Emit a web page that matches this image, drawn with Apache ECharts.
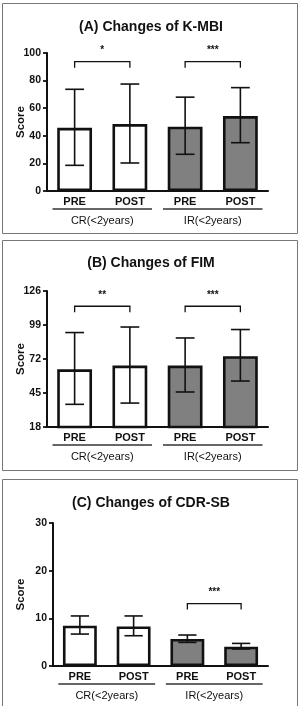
<!DOCTYPE html>
<html>
<head>
<meta charset="utf-8">
<script src="https://cdn.jsdelivr.net/npm/echarts@6/dist/echarts.min.js"></script>
<style>
  html, body { margin: 0; padding: 0; background: #fff; }
  #chart { width: 302px; height: 706px; }
</style>
</head>
<body>
<div id="chart"></div>
<script>
// shared categories
var categories = ['PRE', 'POST', 'PRE', 'POST'];
var groupNames = ['CR(<2years)', 'IR(<2years)'];
var groupSpans = [[0, 1], [2, 3]];
var barColors = ['#ffffff', '#ffffff', '#808080', '#808080'];

// (A) K-MBI
var kmbiMean = [45.8, 48.5, 46.6, 54.3];
var kmbiLower = [18.6, 20.3, 26.6, 35.0];
var kmbiUpper = [73.7, 77.5, 68.0, 74.9];
var kmbiAxis = [0, 100, 20]; // min, max, interval
var kmbiSig = [[0, 1, 93.7], [2, 3, 93.7]];
var kmbiSigLabels = ['*', '***'];

// (B) FIM
var fimMean = [63.8, 66.8, 66.8, 74.2];
var fimLower = [36.0, 37.0, 45.8, 54.5];
var fimUpper = [93.0, 97.4, 88.7, 95.4];
var fimAxis = [18, 126, 27];
var fimSig = [[0, 1, 113.9], [2, 3, 113.9]];
var fimSigLabels = ['**', '***'];

// (C) CDR-SB
var cdrMean = [8.45, 8.3, 5.66, 4.05];
var cdrLower = [6.7, 6.35, 4.95, 3.56];
var cdrUpper = [10.5, 10.5, 6.5, 4.74];
var cdrAxis = [0, 30, 10];
var cdrSig = [[2, 3, 13.1]];
var cdrSigLabels = ['***'];

var titles = ['(A) Changes of K-MBI', '(B) Changes of FIM', '(C) Changes of CDR-SB'];

var FONT = 'Liberation Sans, Arial, sans-serif';
var INK = '#111';

var panels = [
  { mean: kmbiMean, lower: kmbiLower, upper: kmbiUpper, axis: kmbiAxis, sig: kmbiSig, sigLabels: kmbiSigLabels,
    grid: { left: 47, top: 53, width: 221, height: 138 }, titleTop: 15, nameGap: 20, box: [2.5, 3.5, 295, 230] },
  { mean: fimMean, lower: fimLower, upper: fimUpper, axis: fimAxis, sig: fimSig, sigLabels: fimSigLabels,
    grid: { left: 47, top: 291, width: 221, height: 136 }, titleTop: 251, nameGap: 20, box: [2.5, 240.5, 295, 230] },
  { mean: cdrMean, lower: cdrLower, upper: cdrUpper, axis: cdrAxis, sig: cdrSig, sigLabels: cdrSigLabels,
    grid: { left: 53, top: 523, width: 215, height: 143 }, titleTop: 491, nameGap: 26, box: [2.5, 479.5, 295, 240] }
];

function errorItem(params, api) {
  var x = api.value(0);
  var lo = api.coord([x, api.value(1)]);
  var hi = api.coord([x, api.value(2)]);
  var half = api.size([1, 0])[0] * 0.17;
  var st = { stroke: INK, lineWidth: 1.6 };
  return {
    type: 'group',
    children: [
      { type: 'line', shape: { x1: lo[0], y1: lo[1], x2: hi[0], y2: hi[1] }, style: st },
      { type: 'line', shape: { x1: lo[0] - half, y1: lo[1], x2: lo[0] + half, y2: lo[1] }, style: st },
      { type: 'line', shape: { x1: hi[0] - half, y1: hi[1], x2: hi[0] + half, y2: hi[1] }, style: st }
    ]
  };
}

function bracketItem(labels) {
  return function (params, api) {
    var a = api.coord([api.value(0), api.value(2)]);
    var b = api.coord([api.value(1), api.value(2)]);
    var st = { stroke: INK, lineWidth: 1.3, fill: null };
    return {
      type: 'group',
      children: [
        { type: 'polyline', shape: { points: [[a[0], a[1] + 6], [a[0], a[1]], [b[0], b[1]], [b[0], b[1] + 6]] }, style: st },
        { type: 'text', x: (a[0] + b[0]) / 2, y: a[1] - 6,
          style: { text: labels[params.dataIndex], fill: INK, font: 'bold 10px ' + FONT, align: 'center', verticalAlign: 'bottom' } }
      ]
    };
  };
}

function groupItem(params, api) {
  var cs = params.coordSys;
  var band = api.size([1, 0])[0];
  var a = api.coord([api.value(0), api.value(2)]);
  var b = api.coord([api.value(1), api.value(2)]);
  var y = cs.y + cs.height;
  return {
    type: 'group',
    children: [
      { type: 'line', shape: { x1: a[0] - band * 0.4, y1: y + 18, x2: b[0] + band * 0.4, y2: y + 18 },
        style: { stroke: '#333', lineWidth: 1.5 } },
      { type: 'text', x: (a[0] + b[0]) / 2, y: y + 29.5,
        style: { text: groupNames[params.dataIndex], fill: INK, font: '11px ' + FONT, align: 'center', verticalAlign: 'middle' } }
    ]
  };
}

var option = {
  animation: false,
  backgroundColor: '#fff',
  title: [],
  grid: [],
  xAxis: [],
  yAxis: [],
  series: [],
  graphic: []
};

panels.forEach(function (p, i) {
  option.title.push({
    text: titles[i], left: 'center', top: p.titleTop,
    textStyle: { fontFamily: FONT, fontSize: 14, fontWeight: 'bold', color: INK }
  });
  option.grid.push(p.grid);
  option.xAxis.push({
    type: 'category', gridIndex: i, data: categories,
    axisLine: { lineStyle: { color: INK, width: 2 } },
    axisTick: { show: false },
    axisLabel: { color: INK, fontFamily: FONT, fontWeight: 'bold', fontSize: 11, margin: 5 }
  });
  option.yAxis.push({
    type: 'value', gridIndex: i, min: p.axis[0], max: p.axis[1], interval: p.axis[2],
    axisLine: { show: true, lineStyle: { color: INK, width: 2 } },
    axisTick: { show: true, length: 4, lineStyle: { color: INK, width: 1.8 } },
    splitLine: { show: false },
    axisLabel: { color: INK, fontFamily: FONT, fontWeight: 'bold', fontSize: 10.5, margin: 6 },
    name: 'Score', nameLocation: 'middle', nameGap: p.nameGap, nameMoveOverlap: false,
    nameTextStyle: { color: INK, fontFamily: FONT, fontWeight: 'bold', fontSize: 11.5 }
  });
  option.series.push({
    type: 'bar', xAxisIndex: i, yAxisIndex: i, barWidth: '63%',
    itemStyle: { borderColor: INK, borderWidth: 2.6 },
    data: p.mean.map(function (v, k) { return { value: v, itemStyle: { color: barColors[k] } }; }),
    z: 2
  });
  option.series.push({
    type: 'custom', xAxisIndex: i, yAxisIndex: i, renderItem: errorItem, clip: false, z: 3,
    encode: { x: 0, y: [1, 2] },
    data: p.mean.map(function (v, k) { return [k, p.lower[k], p.upper[k]]; })
  });
  option.series.push({
    type: 'custom', xAxisIndex: i, yAxisIndex: i, renderItem: bracketItem(p.sigLabels), clip: false, z: 3,
    encode: { x: [0, 1], y: 2 },
    data: p.sig
  });
  option.series.push({
    type: 'custom', xAxisIndex: i, yAxisIndex: i, renderItem: groupItem, clip: false, z: 3,
    encode: { x: [0, 1], y: 2 },
    data: groupSpans.map(function (g) { return [g[0], g[1], p.axis[0]]; })
  });
  option.graphic.push({
    type: 'rect', shape: { x: p.box[0], y: p.box[1], width: p.box[2], height: p.box[3] },
    style: { fill: 'none', stroke: '#777', lineWidth: 1 }, silent: true
  });
});

var myChart = echarts.init(document.getElementById('chart'));
myChart.setOption(option);
</script>
</body>
</html>
